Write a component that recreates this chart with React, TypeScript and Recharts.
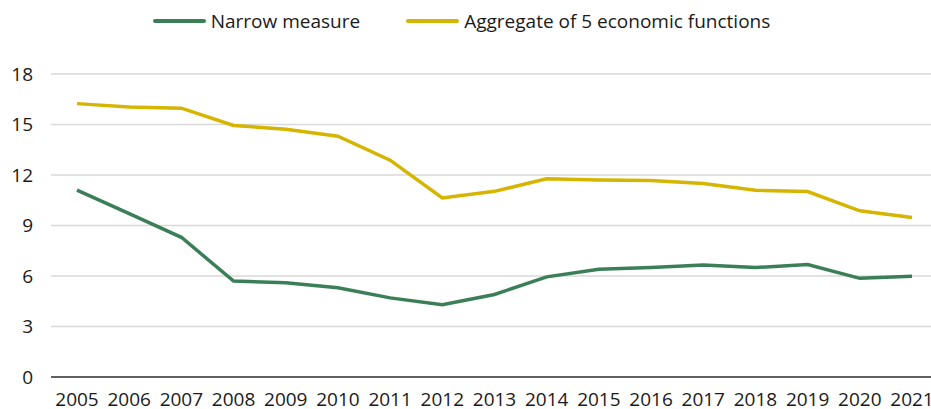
import { LineChart, Line, XAxis, YAxis, CartesianGrid, Legend } from 'recharts'

const years = ['2005', '2006', '2007', '2008', '2009', '2010', '2011', '2012', '2013', '2014', '2015', '2016', '2017', '2018', '2019', '2020', '2021']
const narrow = [11.1, 9.7, 8.3, 5.7, 5.6, 5.3, 4.7, 4.3, 4.9, 5.95, 6.4, 6.5, 6.65, 6.5, 6.68, 5.86, 5.98]
const aggregate = [16.24, 16.04, 15.97, 14.94, 14.72, 14.3, 12.88, 10.64, 11.03, 11.77, 11.7, 11.68, 11.49, 11.09, 11.02, 9.87, 9.47]
const yTicks = [0, 3, 6, 9, 12, 15, 18]

const GREEN = '#3b7f58'
const YELLOW = '#d5b500'
const FONT = '"Open Sans", sans-serif'

const data = years.map((year, i) => ({ year, narrow: narrow[i], aggregate: aggregate[i] }))

const legendItems = [
  { label: 'Narrow measure', color: GREEN },
  { label: 'Aggregate of 5 economic functions', color: YELLOW },
]

function LegendContent() {
  return (
    <div style={{ display: 'flex', justifyContent: 'center', alignItems: 'center', paddingRight: 8, fontFamily: FONT, fontSize: 19, color: '#1a1a1a' }}>
      {legendItems.map((it, i) => (
        <div key={it.label} style={{ display: 'flex', alignItems: 'center', marginLeft: i === 0 ? 0 : 46 }}>
          <span style={{ display: 'inline-block', width: 53, height: 4, borderRadius: 2, background: it.color, marginRight: 5 }} />
          <span>{it.label}</span>
        </div>
      ))}
    </div>
  )
}

export default function App() {
  return (
    <div style={{ position: 'absolute', left: 0, top: 0, width: 931, height: 409, background: '#fff', overflow: 'hidden' }}>
      <LineChart width={931} height={409} data={data} margin={{ top: 30, right: 0, bottom: 0, left: 0 }}>
        <Legend verticalAlign="top" height={44} content={<LegendContent />} wrapperStyle={{ left: 0, top: 8, width: 931 }} />
        <CartesianGrid vertical={false} stroke="#d9d9d9" strokeWidth={1.5} />
        <XAxis
          dataKey="year"
          padding={{ left: 26, right: 19 }}
          height={32}
          tickLine={false}
          tickSize={0}
          tickMargin={16}
          axisLine={{ stroke: '#333', strokeWidth: 1.5 }}
          tick={{ fill: '#1a1a1a', fontSize: 19, fontFamily: FONT }}
          interval={0}
        />
        <YAxis
          domain={[0, 18]}
          ticks={yTicks}
          width={51}
          axisLine={false}
          tickLine={false}
          tickSize={0}
          tickMargin={18}
          tick={{ fill: '#1a1a1a', fontSize: 19, fontFamily: FONT }}
        />
        <Line dataKey="narrow" stroke={GREEN} strokeWidth={3.5} dot={false} isAnimationActive={false} />
        <Line dataKey="aggregate" stroke={YELLOW} strokeWidth={3.5} dot={false} isAnimationActive={false} />
      </LineChart>
    </div>
  )
}
